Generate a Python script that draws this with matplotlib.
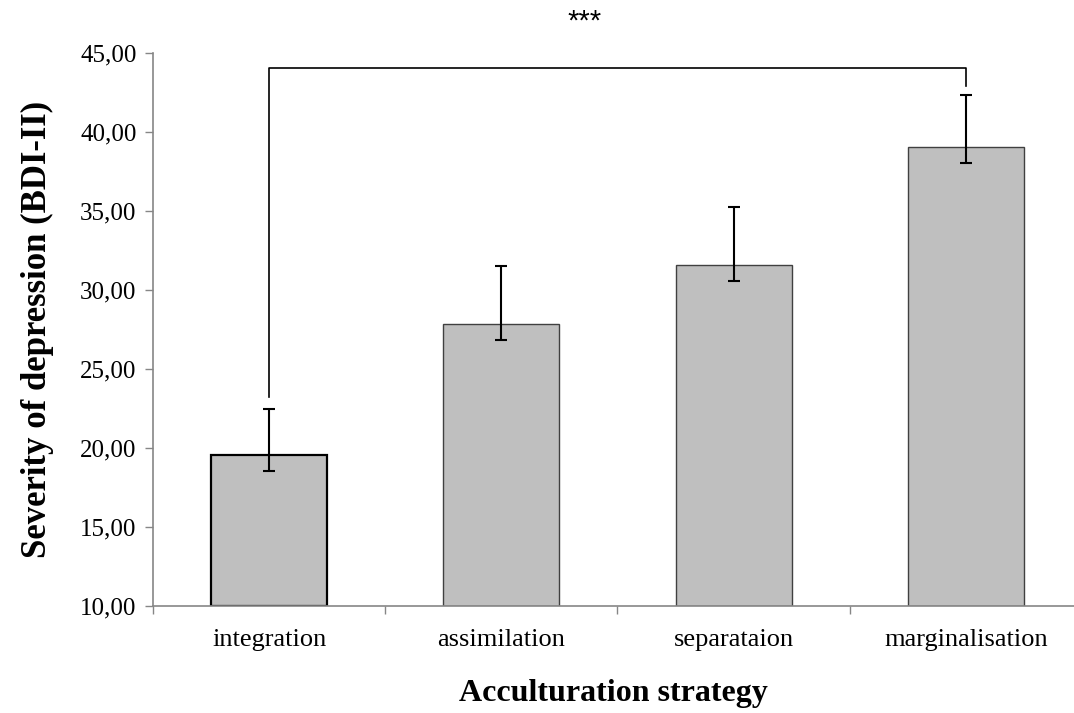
import matplotlib.pyplot as plt
from matplotlib.ticker import FuncFormatter

# Data
strategies = ['integration', 'assimilation', 'separataion', 'marginalisation']
means = [19.56, 27.81, 31.58, 39.05]
err_low = [1.00, 0.97, 0.99, 1.01]
err_high = [2.89, 3.72, 3.69, 3.32]

# significance bracket: integration vs marginalisation
bracket_y = 44.03
bracket_ends = [23.2, 42.93]
sig_label = '***'

plt.rcParams['font.family'] = ['Liberation Serif', 'DejaVu Serif']

fig = plt.figure(figsize=(10.74, 7.13), dpi=100)
ax = fig.add_axes([0.1425, 0.1505, 0.8575, 0.7752])

x = list(range(len(strategies)))
edge_colors = ['black', '#404040', '#404040', '#404040']
edge_widths = [1.6, 1.0, 1.0, 1.0]
ax.bar(x, [m - 10 for m in means], bottom=10, width=0.5, color='#bfbfbf',
       edgecolor=edge_colors, linewidth=edge_widths, zorder=2)
ax.errorbar(x, means, yerr=[err_low, err_high], fmt='none', ecolor='black',
            elinewidth=1.5, capsize=4.5, capthick=1.5, zorder=3)

# bracket
ax.plot([0, 0, 3, 3], [bracket_ends[0], bracket_y, bracket_y, bracket_ends[1]],
        color='black', linewidth=1.2, clip_on=False, zorder=3)
ax.text(1.36, 47.0, sig_label, ha='center', va='center', fontsize=21,
        family=['Liberation Sans', 'DejaVu Sans'], clip_on=False)

ax.set_ylim(10, 45)
ax.set_xlim(-0.5, 3.466)
ax.set_yticks(range(10, 46, 5))
ax.yaxis.set_major_formatter(FuncFormatter(lambda v, p: f'{v:.2f}'.replace('.', ',')))
ax.set_xticks(x)
ax.set_xticklabels(strategies)
ax.set_xticks([-0.5, 0.5, 1.5, 2.5], minor=True)
ax.tick_params(axis='x', which='major', length=0, pad=17, labelsize=19)
ax.tick_params(axis='x', which='minor', length=6, width=1, color='#868686', direction='out')
ax.tick_params(axis='y', length=6, width=1, color='#868686', direction='out', labelsize=18, pad=6)

for s in ['top', 'right']:
    ax.spines[s].set_visible(False)
for s in ['left', 'bottom']:
    ax.spines[s].set_color('#868686')
    ax.spines[s].set_linewidth(1.2)

ax.set_ylabel('Severity of depression (BDI-II)', fontsize=25, fontweight='bold', labelpad=19)
ax.set_xlabel('Acculturation strategy', fontsize=23, fontweight='bold', labelpad=20)

fig.savefig('out.png', dpi=100)
